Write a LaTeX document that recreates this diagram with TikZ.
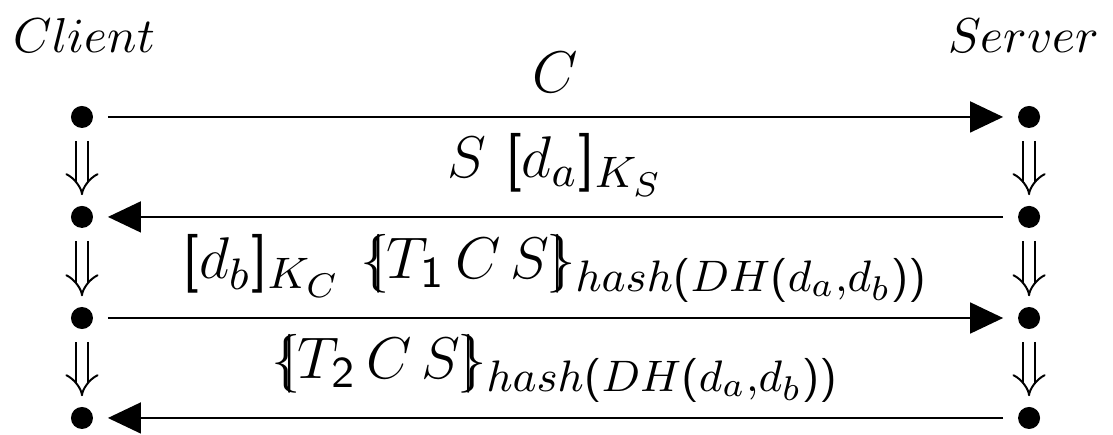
\documentclass[tikz,border=0pt]{standalone}
\usepackage{amsmath,amssymb}
\usetikzlibrary{arrows.meta}
% sans digits and brackets in formulas, larger indices in labels
\DeclareSymbolFont{operators}{OT1}{cmss}{m}{n}
\DeclareMathSizes{12}{12}{9}{7}

\begin{document}
\begin{tikzpicture}[x=1cm,y=1cm,
      ev/.style={circle,fill=black,inner sep=0pt,minimum size=0.158cm},
      msg/.style={line width=0.4pt,-{Triangle[length=0.237cm,width=0.222cm]},
                  shorten <=0.1cm,shorten >=0.1cm},
      nx/.style={double,double distance=2pt,line width=0.4pt,-{Implies[scale=1.3]},
                 shorten <=0.086cm,shorten >=0.07cm},
      lb/.style={midway,anchor=base,inner sep=0pt,font=\large,yshift=#1},
      lb/.default=0.28cm]
    \useasboundingbox (0,0) rectangle (7.983,-3.113);
    \node[anchor=base west,inner sep=0pt] (client) at (0.093,-0.380) {$Client$};
    \node[anchor=base east,inner sep=0pt] (server) at (7.890,-0.380) {$Server$};
    \node[ev] (c1) at (0.588,-0.839) {}; \node[ev] (s1) at (7.381,-0.839) {};
    \node[ev] (c2) at (0.588,-1.556) {}; \node[ev] (s2) at (7.381,-1.556) {};
    \node[ev] (c3) at (0.588,-2.281) {}; \node[ev] (s3) at (7.381,-2.281) {};
    \node[ev] (c4) at (0.588,-2.998) {}; \node[ev] (s4) at (7.381,-2.998) {};
    \draw[nx] (c1) -- (c2); \draw[nx] (c2) -- (c3); \draw[nx] (c3) -- (c4);
    \draw[nx] (s1) -- (s2); \draw[nx] (s2) -- (s3); \draw[nx] (s3) -- (s4);
    \draw[msg] (c1) -- (s1) node[lb=0.172cm] {$C$};
    \draw[msg] (s2) -- (c2) node[lb] {$S\ [d_a]_{K_S}$};
    \draw[msg] (c3) -- (s3)
      node[lb] {$[d_b]_{K_C}\ \{\!\!|T_1\,C\,S|\!\!\}_{hash(DH(d_a,d_b))}$};
    \draw[msg] (s4) -- (c4)
      node[lb] {$\{\!\!|T_2\,C\,S|\!\!\}_{hash(DH(d_a,d_b))}$};
  \end{tikzpicture}
\end{document}
